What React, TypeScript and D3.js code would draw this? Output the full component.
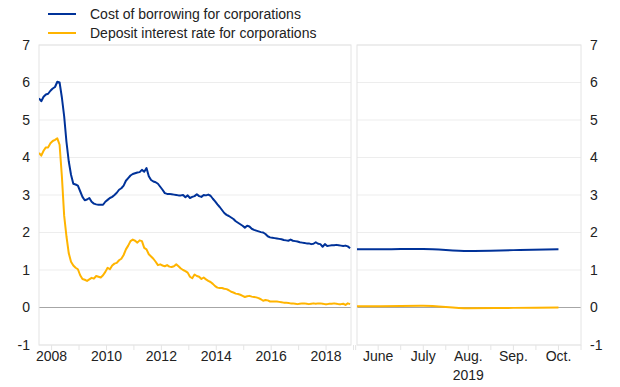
import React from "react";
import * as d3 from "d3";

// Monthly data, Jan 2008 .. May 2019
const borrowing: number[] = [
  5.58, 5.5, 5.62, 5.68, 5.7, 5.78, 5.84, 5.88, 6.02, 6.0, 5.6, 5.1,
  4.42, 3.9, 3.54, 3.3, 3.28, 3.25, 3.1, 2.95, 2.86, 2.88, 2.92, 2.82,
  2.77, 2.75, 2.74, 2.74, 2.74, 2.82, 2.87, 2.92, 2.95, 3.0, 3.06, 3.14,
  3.18, 3.25, 3.38, 3.45, 3.52, 3.56, 3.58, 3.6, 3.61, 3.67, 3.62, 3.72,
  3.5, 3.4, 3.36, 3.34, 3.3, 3.22, 3.14, 3.05, 3.03, 3.03, 3.02, 3.01,
  3.0, 2.99, 2.99, 3.0, 2.94, 2.99, 2.92, 2.95, 2.97, 3.02, 2.97, 2.95,
  3.0, 2.99, 3.01, 2.98, 2.9, 2.83, 2.75, 2.68, 2.6, 2.52, 2.47, 2.44,
  2.4, 2.36, 2.3, 2.26, 2.22, 2.18, 2.13, 2.18, 2.16, 2.1, 2.07, 2.05,
  2.03, 2.01, 2.0, 1.96, 1.9, 1.87, 1.86, 1.85, 1.84, 1.83, 1.82, 1.8,
  1.79, 1.78, 1.81, 1.78, 1.77, 1.76, 1.74, 1.73, 1.72, 1.71, 1.71, 1.69,
  1.7, 1.74, 1.7, 1.69, 1.62, 1.69, 1.64, 1.65, 1.66, 1.66, 1.67, 1.66,
  1.65, 1.64, 1.65, 1.63, 1.58,
];
const deposit: number[] = [
  4.12, 4.05, 4.18, 4.27, 4.27, 4.38, 4.44, 4.47, 4.51, 4.34, 3.5, 2.45,
  1.9, 1.45, 1.22, 1.12, 1.06, 1.02, 0.86, 0.76, 0.74, 0.71, 0.75, 0.79,
  0.77, 0.84, 0.82, 0.8, 0.86, 0.95, 1.06, 1.02, 1.12, 1.17, 1.19, 1.26,
  1.3, 1.4, 1.55, 1.65, 1.77, 1.81, 1.78, 1.73, 1.79, 1.77, 1.59, 1.55,
  1.42, 1.36, 1.3, 1.22, 1.13, 1.15, 1.12, 1.1, 1.13, 1.09, 1.08, 1.1,
  1.15, 1.1, 1.04, 1.0, 0.97, 0.93, 0.82, 0.78, 0.88, 0.84, 0.82, 0.76,
  0.8, 0.75, 0.71, 0.68, 0.63, 0.57, 0.53, 0.52, 0.52, 0.5, 0.49, 0.46,
  0.42, 0.4, 0.37, 0.36, 0.34, 0.31, 0.28, 0.3, 0.31, 0.29, 0.28, 0.27,
  0.25, 0.22, 0.18, 0.2, 0.19, 0.16, 0.16, 0.16, 0.16, 0.15, 0.14, 0.13,
  0.13, 0.12, 0.11, 0.11, 0.1, 0.09, 0.1, 0.11, 0.11, 0.1, 0.09, 0.1,
  0.11, 0.1, 0.11, 0.11, 0.1, 0.09, 0.09, 0.1, 0.1, 0.11, 0.1, 0.09,
  0.09, 0.1, 0.07, 0.11, 0.09,
];
const yearLabels = ["2008", "2010", "2012", "2014", "2016", "2018"];

// Right panel: months May..Oct 2019 (index relative to June)
const recentMonthIdx = [-1, 0, 1, 2, 3, 4];
const recentBorrowing = [1.56, 1.555, 1.56, 1.51, 1.53, 1.555];
const recentDeposit = [0.035, 0.035, 0.045, -0.02, -0.01, 0.0];
const monthLabels = ["June", "July", "Aug.", "Sep.", "Oct."];
const yearLabelRight = "2019";

const yTicks = [-1, 0, 1, 2, 3, 4, 5, 6, 7];
const legendLabels = [
  "Cost of borrowing for corporations",
  "Deposit interest rate for corporations",
];

const BLUE = "#003299";
const YELLOW = "#ffb400";
const FONT = "'Liberation Sans', Arial, Helvetica, sans-serif";

export default function App() {
  const W = 620, H = 387;
  const top = 45, bottom = 345;
  const L0 = 39, L1 = 351, R0 = 357, R1 = 581;
  const y = d3.scaleLinear().domain([-1, 7]).range([bottom, top]);
  const xL = d3.scaleLinear().domain([0, 136.4]).range([L0, L1]);
  const xR = d3.scaleLinear().domain([-0.47, 4.5]).range([R0, R1]);

  const lineL = d3.line<number>().x((_, i) => xL(i)).y((d) => y(d));
  const lineR = d3
    .line<number>()
    .x((_, i) => xR(recentMonthIdx[i]))
    .y((d) => y(d))
    .curve(d3.curveMonotoneX);

  const yearTicks = d3.range(0, 12).map((k) => 12 * k + 5.5);
  const halfTicks = d3.range(-0.5, 4.51, 0.5);

  return (
    <svg width={W} height={H} style={{ position: "absolute", left: 0, top: 0 }} fontFamily={FONT}>
      <defs>
        <clipPath id="clipR">
          <rect x={R0} y={top} width={R1 - R0} height={bottom - top} />
        </clipPath>
        <clipPath id="clipL">
          <rect x={L0} y={top} width={L1 - L0} height={bottom - top} />
        </clipPath>
      </defs>
      {/* grid */}
      {yTicks.map((t) => (
        <g key={t}>
          <line x1={L0} x2={L1} y1={y(t)} y2={y(t)} stroke={t === 0 ? "#a6a6a6" : "#ededed"} strokeWidth={1} />
          <line x1={R0} x2={R1} y1={y(t)} y2={y(t)} stroke={t === 0 ? "#a6a6a6" : "#ededed"} strokeWidth={1} />
          <text x={30} y={y(t)} dy="0.35em" textAnchor="end" fontSize={14} fill="#222">{t}</text>
          <text x={590} y={y(t)} dy="0.35em" textAnchor="start" fontSize={14} fill="#222">{t}</text>
        </g>
      ))}
      {/* frames */}
      <rect x={L0} y={top} width={L1 - L0} height={bottom - top} fill="none" stroke="#e4e4e4" />
      <rect x={R0} y={top} width={R1 - R0} height={bottom - top} fill="none" stroke="#e4e4e4" />
      {/* x ticks left */}
      {yearTicks.map((m, i) => (
        <line key={i} x1={xL(m)} x2={xL(m)} y1={bottom} y2={bottom + 5} stroke="#e4e4e4" />
      ))}
      {yearLabels.map((lab, i) => (
        <text key={lab} x={xL(24 * i + 5.5)} y={361} textAnchor="middle" fontSize={14} fill="#222">{lab}</text>
      ))}
      {/* x ticks right */}
      {halfTicks.map((m, i) => (
        <line key={i} x1={xR(m)} x2={xR(m)} y1={bottom} y2={bottom + 5} stroke="#e4e4e4" />
      ))}
      {monthLabels.map((lab, i) => (
        <text key={lab} x={xR(i)} y={361} textAnchor="middle" fontSize={14} fill="#222">{lab}</text>
      ))}
      <text x={xR(2)} y={380} textAnchor="middle" fontSize={14} fill="#222">{yearLabelRight}</text>
      {/* lines */}
      <g clipPath="url(#clipL)">
        <path d={lineL(deposit) || ""} fill="none" stroke={YELLOW} strokeWidth={2} strokeLinejoin="round" />
        <path d={lineL(borrowing) || ""} fill="none" stroke={BLUE} strokeWidth={2} strokeLinejoin="round" />
      </g>
      <g clipPath="url(#clipR)">
        <path d={lineR(recentDeposit) || ""} fill="none" stroke={YELLOW} strokeWidth={2} />
        <path d={lineR(recentBorrowing) || ""} fill="none" stroke={BLUE} strokeWidth={2} />
      </g>
      {/* legend */}
      {legendLabels.map((lab, i) => (
        <g key={lab}>
          <line x1={48} x2={76} y1={14 + i * 19} y2={14 + i * 19} stroke={i === 0 ? BLUE : YELLOW} strokeWidth={2} />
          <text x={90} y={14 + i * 19} dy="0.35em" fontSize={14} fill="#222">{lab}</text>
        </g>
      ))}
    </svg>
  );
}
